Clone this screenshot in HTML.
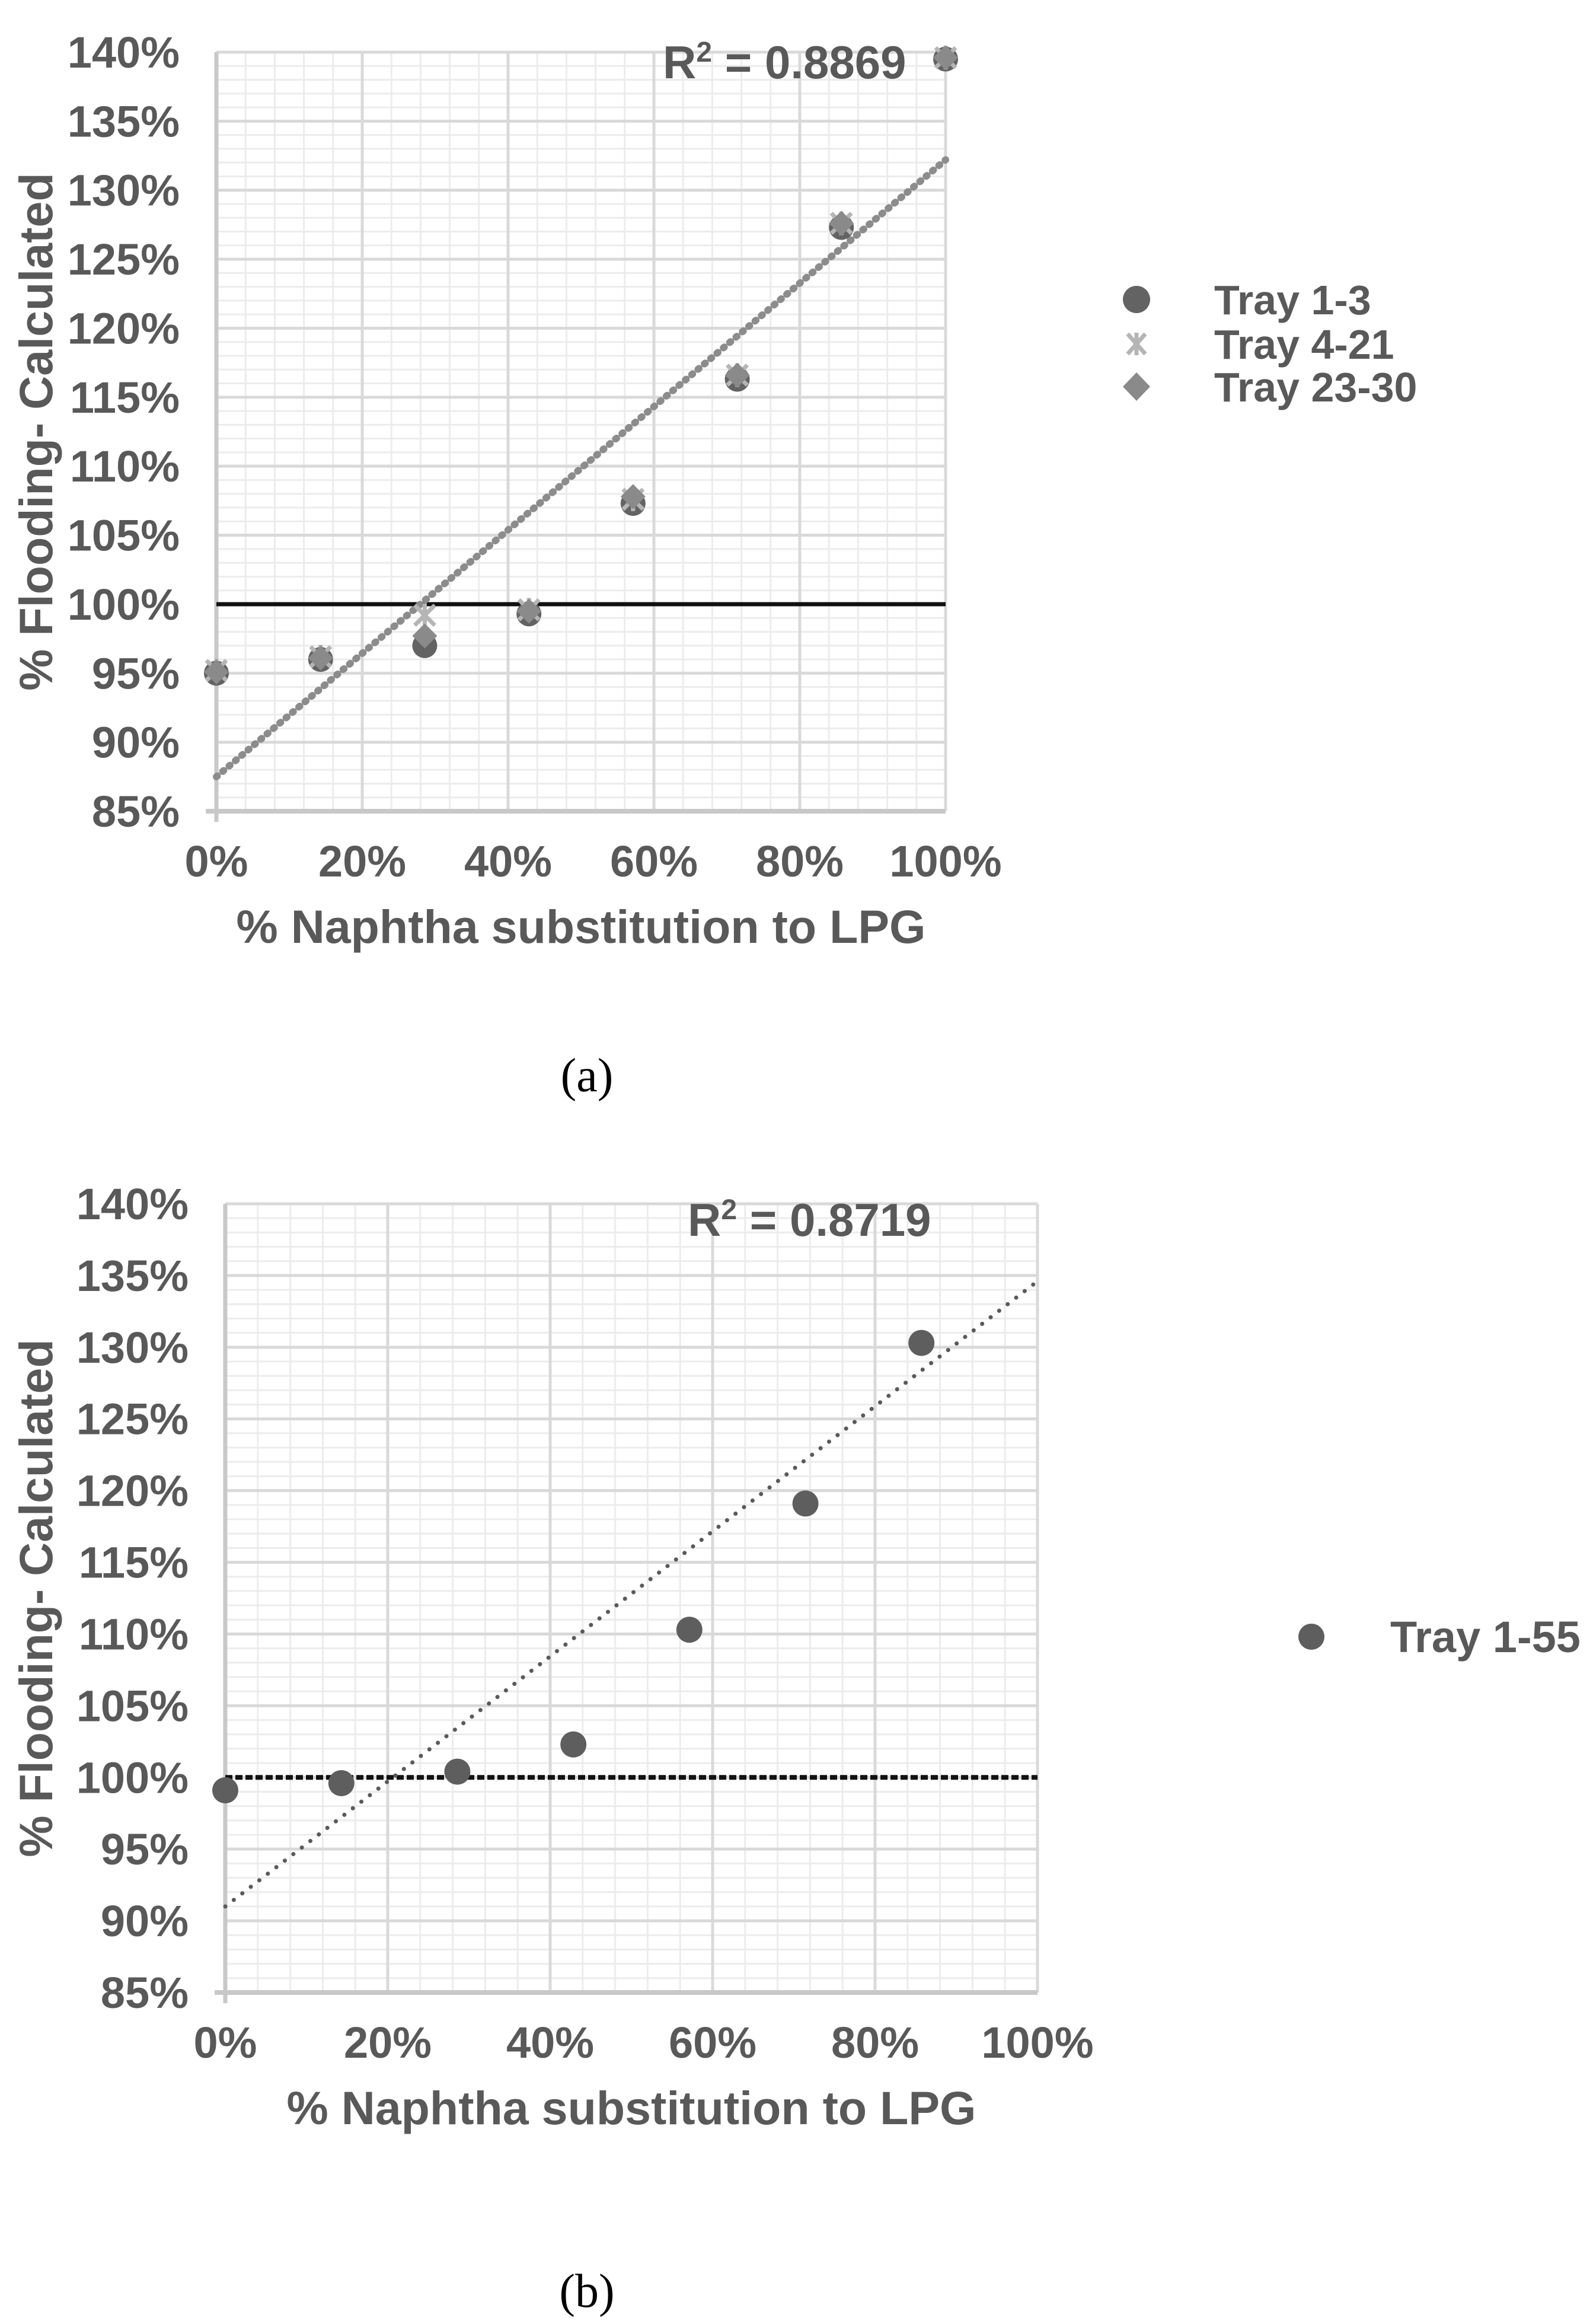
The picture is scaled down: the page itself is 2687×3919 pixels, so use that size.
<!DOCTYPE html>
<html><head><meta charset="utf-8"><style>
html,body{margin:0;padding:0;background:#fff;}
svg{display:block;}
text{font-family:"Liberation Sans",Arial,sans-serif;}
</style></head><body>
<svg id="fig" width="2687" height="3919" viewBox="0 0 2687 3919" xmlns="http://www.w3.org/2000/svg">
<g id="chartA"></g>
<g id="chartB"></g>
<text x="990" y="1840" text-anchor="middle" font-size="80" style="font-family:'Liberation Serif',serif" fill="#000">(a)</text>
<text x="990" y="3890" text-anchor="middle" font-size="80" style="font-family:'Liberation Serif',serif" fill="#000">(b)</text>
</svg>
<script>
const xCats = [0, 14.29, 28.57, 42.86, 57.14, 71.43, 85.71, 100];
const xTicks = ["0%","20%","40%","60%","80%","100%"];
const yTicks = ["85%","90%","95%","100%","105%","110%","115%","120%","125%","130%","135%","140%"];
const aTray13 = [95.0, 96.0, 97.0, 99.3, 107.3, 116.3, 127.3, 139.5];
const aTray421 = [95.2, 96.2, 99.2, 99.6, 107.6, 116.6, 127.6, 139.6];
const aTray2330 = [95.1, 96.1, 97.7, 99.5, 107.8, 116.6, 127.6, 139.6];
const aTrend = [87.5, 132.2];
const bTray155 = [99.1, 99.6, 100.4, 102.3, 110.3, 119.1, 130.3];
const bTrend = [91.0, 134.6];
const NS = "http://www.w3.org/2000/svg";
function mk(p, tag, at, txt){const e=document.createElementNS(NS,tag);for(const k in at)e.setAttribute(k,at[k]);if(txt!==undefined)e.textContent=txt;p.appendChild(e);return e;}

function drawChart(g, L, R, T, B, opts){
  const X = v => L + (v/100)*(R-L);
  const Y = v => B - (v-85)/55*(B-T);
  for(let v=0; v<=100; v+=4){ if(v%20===0) continue;
    const l=mk(g,'line',{x1:X(v),x2:X(v),y1:T,y2:B,stroke:'#ececec','stroke-width':3});
    
    }
  for(let v=85; v<=140; v+=1){ if(v%5===0) continue;
    const l=mk(g,'line',{x1:L,x2:R,y1:Y(v),y2:Y(v),stroke:'#ececec','stroke-width':3});
    
    }
  for(let v=20; v<=100; v+=20){
    const l=mk(g,'line',{x1:X(v),x2:X(v),y1:T,y2:B,stroke:'#d9d9d9','stroke-width':5});
    
    }
  for(let v=90; v<=140; v+=5){
    const l=mk(g,'line',{x1:L,x2:R,y1:Y(v),y2:Y(v),stroke:'#d9d9d9','stroke-width':5});
    
    }
  const ax=mk(g,'line',{x1:L-18,x2:R,y1:B,y2:B,stroke:'#c8c8c8','stroke-width':8});
  
  
  const ay=mk(g,'line',{x1:L,x2:L,y1:T,y2:B+18,stroke:'#c8c8c8','stroke-width':7});
  
  
  yTicks.forEach((t,i)=>{const e=mk(g,'text',{x:L-62,y:Y(85+i*5)+26,'text-anchor':'end','font-size':74,'font-weight':'bold',fill:'#595959'},t);
    
    });
  xTicks.forEach((t,i)=>{const e=mk(g,'text',{x:X(i*20),y:B+110,'text-anchor':'middle','font-size':74,'font-weight':'bold',fill:'#595959'},t);
    
    });
  const xt=mk(g,'text',{x:(L+R)/2,y:B+222,'text-anchor':'middle','font-size':79,'font-weight':'bold',fill:'#595959'},'% Naphtha substitution to LPG');
  
  
  const cy=(T+B)/2;
  const yt=mk(g,'text',{x:88,y:cy,'text-anchor':'middle','font-size':79,'font-weight':'bold',fill:'#595959',transform:`rotate(-90 88 ${cy})`},'% Flooding- Calculated');
  
  
  const ref=mk(g,'line',{x1:L,x2:R,y1:Y(100),y2:Y(100),stroke:'#111','stroke-width':opts.refW});
  if(opts.refDash) ref.setAttribute('stroke-dasharray',opts.refDash);
  
  
  const tr=mk(g,'line',{x1:X(0),y1:Y(opts.trend[0]),x2:X(100),y2:Y(opts.trend[1]),stroke:opts.trendColor,'stroke-width':opts.trendW,'stroke-dasharray':opts.trendDash,'stroke-linecap':'round'});
  
  
  const r2=mk(g,'text',{x:opts.r2x,y:T+opts.r2dy,'text-anchor':'start','font-size':78,'font-weight':'bold',fill:'#595959'});
  
  
  r2.innerHTML='R<tspan font-size="48" dy="-28">2</tspan><tspan dy="28"> = '+opts.r2+'</tspan>';
  return {X,Y};
}

const gA=document.getElementById('chartA');
const A=drawChart(gA,365,1595,88,1368,{refW:7,trend:aTrend,trendColor:'#8c8c8c',trendW:12,trendDash:'2 12',r2x:1118,r2dy:44,r2:'0.8869'});
aTray13.forEach((v,i)=>{const c=mk(gA,'circle',{cx:A.X(xCats[i]),cy:A.Y(v),r:21,fill:'#636363'});
  
  });
aTray421.forEach((v,i)=>{const x=A.X(xCats[i]),y=A.Y(v),s=17;
  const p=mk(gA,'path',{d:`M${x-s} ${y-s}L${x+s} ${y+s}M${x+s} ${y-s}L${x-s} ${y+s}M${x} ${y-s-3}L${x} ${y+s+3}`,stroke:'#b5b5b5','stroke-width':7});
  
  });
aTray2330.forEach((v,i)=>{const x=A.X(xCats[i]),y=A.Y(v),s=21;
  const p=mk(gA,'path',{d:`M${x} ${y-s}L${x+s} ${y}L${x} ${y+s}L${x-s} ${y}Z`,fill:'#8a8a8a'});
  
  });
const legA=[['Tray 1-3',505],['Tray 4-21',580],['Tray 23-30',652]];
legA.forEach((d,i)=>{
  const x=1917,y=d[1];
  let m;
  if(i===0) m=mk(gA,'circle',{cx:x,cy:y,r:23,fill:'#636363'});
  else if(i===1) m=mk(gA,'path',{d:`M${x-15} ${y-17}L${x+15} ${y+17}M${x+15} ${y-17}L${x-15} ${y+17}M${x} ${y-19}L${x} ${y+19}`,stroke:'#b5b5b5','stroke-width':7});
  else m=mk(gA,'path',{d:`M${x} ${y-24}L${x+23} ${y}L${x} ${y+24}L${x-23} ${y}Z`,fill:'#8a8a8a'});
  
  
  const t=mk(gA,'text',{x:2048,y:y+25,'font-size':70,'font-weight':'bold',fill:'#595959'},d[0]);
  
  
});

const gB=document.getElementById('chartB');
const B=drawChart(gB,380,1750,2030,3360,{refW:8,refDash:'12 5',trend:bTrend,trendColor:'#5a5a5a',trendW:7,trendDash:'0.1 18',r2x:1160,r2dy:54,r2:'0.8719'});
bTray155.forEach((v,i)=>{const c=mk(gB,'circle',{cx:B.X(xCats[i]),cy:B.Y(v),r:22,fill:'#5e5e5e'});
  
  });
const lm=mk(gB,'circle',{cx:2212,cy:2760,r:22,fill:'#5e5e5e'});


const lt=mk(gB,'text',{x:2345,y:2786,'font-size':74,'font-weight':'bold',fill:'#595959'},'Tray 1-55');


</script>
</body></html>
